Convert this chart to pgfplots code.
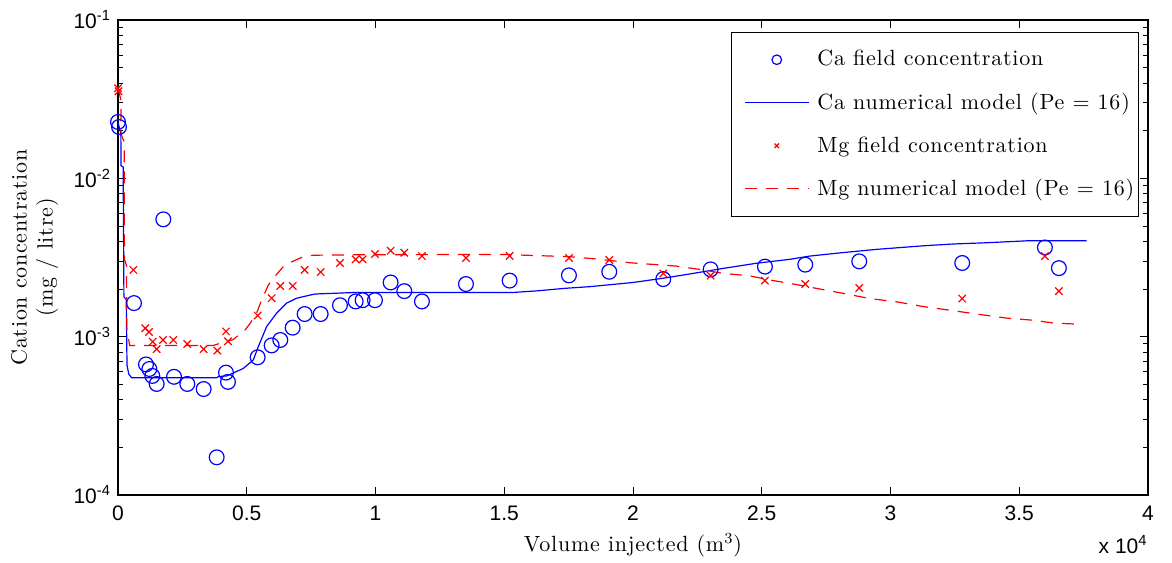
\documentclass[border=0pt]{standalone}
\usepackage{fontspec}
\setmainfont{Latin Modern Roman}[LetterSpace=3.5]
\usepackage{pgfplots}
\pgfplotsset{compat=1.18}
\newfontfamily\arial{Liberation Sans}

\definecolor{mblue}{RGB}{0,0,255}
\definecolor{mred}{RGB}{255,0,0}

% legend images: a single small mark, or a line segment
\pgfplotsset{
  circleleg/.style={legend image code/.code={%
    \draw[##1, mark size=2.4pt] plot coordinates {(16pt,0pt)};
    \path (-6.5pt,0pt) (34pt,0pt);}},
  crossleg/.style={legend image code/.code={%
    \draw[##1, mark size=1.6pt] plot coordinates {(16pt,0pt)};
    \path (-6.5pt,0pt) (34pt,0pt);}},
  lineleg/.style={legend image code/.code={%
    \draw[##1] (0pt,0pt) -- (32pt,0pt);
    \path (-6.5pt,0pt) (34pt,0pt);}},
}

\begin{document}
\begin{tikzpicture}
\useasboundingbox (-59pt,-33.5pt) rectangle (527pt,247.5pt);
\begin{axis}[
  at={(0pt,0pt)}, anchor=south west,
  scale only axis, width=515pt, height=237.5pt,
  clip=false,
  ymode=log,
  xmin=0, xmax=40000, ymin=1e-4, ymax=1e-1,
  scaled x ticks=false,
  xtick={0,5000,10000,15000,20000,25000,30000,35000,40000},
  xticklabels={0,0.5,1,1.5,2,2.5,3,3.5,4},
  ytick={1e-4,1e-3,1e-2,1e-1},
  yticklabels={10\textsuperscript{-4},10\textsuperscript{-3},10\textsuperscript{-2},10\textsuperscript{-1}},
  tick label style={font=\fontsize{10.5}{12}\selectfont\arial},
  xticklabel style={yshift=-2pt},
  major tick length=4pt, minor tick length=2.5pt,
  tick style={black, line width=0.5pt},
  axis line style={line width=0.8pt},
  label style={font=\fontsize{11}{13}\selectfont},
  xlabel={Volume injected (m\textsuperscript{3})},
  xlabel style={at={(axis description cs:0.5,0)}, anchor=center, yshift=-25pt},
  ylabel={Cation concentration\\(mg / litre)},
  ylabel style={at={(axis description cs:-0.081,0.5)}, anchor=center, align=center},
  legend style={at={(0.991,0.975)}, anchor=north east, draw=black, line width=0.6pt,
    font=\fontsize{11}{13}\selectfont, row sep=8pt,
    inner xsep=0pt, inner ysep=7pt},
  legend cell align=left,
]

% Ca field data
\addplot[only marks, mark=o, mark size=3.7pt, color=mblue, line width=0.6pt, circleleg]
coordinates {
(0,0.0227)(40,0.0211)(621,0.00163)(1087,0.000668)(1217,0.000625)(1333,0.000565)
(1502,0.000503)(1760,0.00551)(2175,0.000558)(2692,0.000503)(3327,0.000467)
(3832,0.000173)(4194,0.000593)(4271,0.000518)(5424,0.000741)(5967,0.000881)
(6303,0.000953)(6783,0.00114)(7249,0.00139)(7870,0.00139)(8620,0.00158)
(9229,0.00167)(9500,0.00170)(9979,0.00170)(10588,0.00220)(11118,0.00194)
(11804,0.00167)(13513,0.00215)(15209,0.00226)(17512,0.00244)(19078,0.00257)
(21175,0.00231)(23015,0.00266)(25123,0.00277)(26689,0.00285)(28786,0.00299)
(32785,0.00292)(35996,0.00366)(36540,0.00271)
};
\addlegendentry{Ca field concentration}

% Ca model
\addplot[no marks, color=mblue, line width=0.6pt, lineleg]
coordinates {
(0,0.0225)(110,0.0193)(120,0.0120)(200,0.0118)(230,0.00178)(320,0.00172)
(350,0.00066)(420,0.00058)(530,0.00055)(3830,0.00055)(3900,0.00056)
(4221,0.000565)(4866,0.00063)(5254,0.000713)(5448,0.000865)(5774,0.00116)
(6162,0.00141)(6550,0.00163)(6939,0.00175)(7196,0.00179)(7650,0.00186)
(9137,0.00190)(15300,0.00190)(16321,0.00195)(17357,0.00202)(18328,0.00207)
(20009,0.00220)(21174,0.00234)(22339,0.00251)(23504,0.00270)(24800,0.00291)
(26093,0.00308)(26870,0.00323)(28100,0.00339)(29460,0.00356)(31270,0.00375)
(32440,0.00385)(33730,0.00392)(35413,0.00404)(37613,0.00404)
};
\addlegendentry{Ca numerical model (Pe = 16)}

% Mg field data
\addplot[only marks, mark=x, mark size=2.6pt, color=mred, line width=0.6pt, crossleg]
coordinates {
(0,0.0371)(20,0.0355)(594,0.00264)(1061,0.00113)(1204,0.00107)(1346,0.000929)
(1502,0.000835)(1747,0.000953)(2149,0.000953)(2692,0.000899)(3327,0.000835)
(3858,0.000817)(4194,0.00108)(4271,0.000935)(5424,0.00136)(5967,0.00175)
(6303,0.00209)(6783,0.00209)(7249,0.00264)(7870,0.00256)(8620,0.00292)
(9229,0.00308)(9500,0.00308)(9979,0.00333)(10588,0.00349)(11118,0.00339)
(11804,0.00323)(13513,0.00314)(15209,0.00324)(17512,0.00314)(19078,0.00305)
(21175,0.00251)(23015,0.00243)(25123,0.00226)(26689,0.00215)(28786,0.00203)
(32785,0.00174)(35996,0.00323)(36540,0.00194)
};
\addlegendentry{Mg field concentration}

% Mg model
\addplot[no marks, color=mred, line width=0.6pt, dash pattern=on 6pt off 4.5pt, lineleg]
coordinates {
(0,0.037)(80,0.033)(116,0.031)(120,0.019)(240,0.0170)(250,0.0031)(330,0.0028)
(345,0.00112)(400,0.00100)(450,0.00088)(3700,0.00088)(3961,0.000908)
(4221,0.00093)(4478,0.00096)(4931,0.00110)(5126,0.00121)(5386,0.00141)
(5580,0.00171)(5838,0.00212)(6031,0.00234)(6419,0.00277)(6744,0.00297)
(7196,0.00320)(7584,0.00327)(9268,0.00329)(14833,0.00331)(17550,0.00320)
(18716,0.00308)(19881,0.00293)(21694,0.00279)(22728,0.00264)(23504,0.00251)
(24541,0.00242)(25318,0.00228)(26093,0.00217)(27258,0.00200)(28295,0.00186)
(29200,0.00174)(30236,0.00166)(31270,0.00155)(32306,0.00147)(33342,0.00139)
(34507,0.00131)(35542,0.00127)(36319,0.00122)(37226,0.00120)
};
\addlegendentry{Mg numerical model (Pe = 16)}

\node[anchor=east, font=\fontsize{10.5}{12}\selectfont\arial, inner sep=0pt]
  at (rel axis cs:1,0) [yshift=-25pt] {x 10\textsuperscript{4}};
\end{axis}
\end{tikzpicture}
\end{document}
